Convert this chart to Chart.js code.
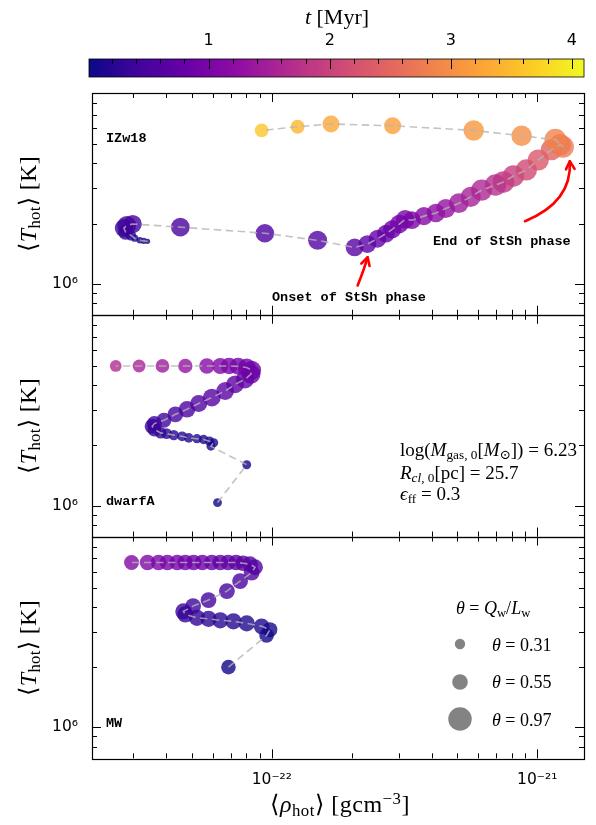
<!DOCTYPE html>
<html><head><meta charset="utf-8">
<script src="https://cdn.jsdelivr.net/npm/chart.js@4.4.1/dist/chart.umd.min.js"></script>
<style>
html,body{margin:0;padding:0;background:#fff;}
#wrap{position:relative;width:596px;height:825px;overflow:hidden;}
canvas{position:absolute;left:0;top:0;}
.t{position:absolute;white-space:nowrap;line-height:1;color:#000;}
.serif{font-family:'Liberation Serif','DejaVu Serif',serif;}
.mono{font-family:'Liberation Mono','DejaVu Sans Mono',monospace;font-weight:bold;font-size:13.5px;transform:translateY(-50%);}
.ylab{font-size:24px;letter-spacing:0.3px;transform:translate(-50%,-50%) rotate(-90deg);}
.c{transform:translate(-50%,-50%);}
.l{transform:translateY(-50%);}
sub{font-size:70%;vertical-align:-0.25em;line-height:0;}
sup{font-size:70%;vertical-align:0.5em;line-height:0;}
</style></head>
<body><div id="wrap">
<canvas id="main" width="596" height="825"></canvas>
<canvas id="cbar" width="596" height="82"></canvas>

<div class="t serif c" style="left:337px;top:17px;font-size:22px;"><i>t</i> [Myr]</div>

<div class="t serif ylab" style="left:28px;top:204px;">⟨<i>T</i><sub>hot</sub>⟩ [K]</div>
<div class="t serif ylab" style="left:28px;top:426px;">⟨<i>T</i><sub>hot</sub>⟩ [K]</div>
<div class="t serif ylab" style="left:28px;top:648px;">⟨<i>T</i><sub>hot</sub>⟩ [K]</div>
<div class="t serif c" style="left:340px;top:804px;font-size:24px;letter-spacing:0.5px;">⟨<i>ρ</i><sub>hot</sub>⟩ [gcm<sup>−3</sup>]</div>

<div class="t mono" style="left:106px;top:139px;">IZw18</div>
<div class="t mono" style="left:272px;top:298px;">Onset of StSh phase</div>
<div class="t mono" style="left:433px;top:242px;">End of StSh phase</div>
<div class="t mono" style="left:106px;top:502px;">dwarfA</div>
<div class="t mono" style="left:106px;top:724px;">MW</div>

<div class="t serif l" style="left:400px;top:449px;font-size:19px;">log(<i>M</i><sub>gas, 0</sub>[<i>M</i><sub>⊙</sub>]) = 6.23</div>
<div class="t serif l" style="left:400px;top:472px;font-size:19px;"><i>R</i><sub><i>cl</i>, 0</sub>[pc] = 25.7</div>
<div class="t serif l" style="left:400px;top:493px;font-size:19px;"><i>ϵ</i><sub>ff</sub> = 0.3</div>

<div class="t serif l" style="left:456px;top:608px;font-size:18px;"><i>θ</i> = <i>Q</i><sub>w</sub>/<i>L</i><sub>w</sub></div>
<div class="t serif l" style="left:492px;top:645px;font-size:18px;"><i>θ</i> = 0.31</div>
<div class="t serif l" style="left:492px;top:682px;font-size:18px;"><i>θ</i> = 0.55</div>
<div class="t serif l" style="left:492px;top:720px;font-size:18px;"><i>θ</i> = 0.97</div>
</div>
<script>
// ---------------- data ----------------
// IZw18
const izwRho = [3.40e-23,3.29e-23,3.18e-23,3.04e-23,2.94e-23,2.81e-23,2.77e-23,2.84e-23,2.99e-23,4.52e-23,9.41e-23,1.487e-22,2.05e-22,2.29e-22,2.50e-22,2.69e-22,2.84e-22,3.02e-22,3.18e-22,3.37e-22,3.74e-22,4.15e-22,4.52e-22,5.06e-22,5.61e-22,6.17e-22,6.96e-22,7.46e-22,8.13e-22,9.10e-22,1.009e-21,1.13e-21,1.22e-21,1.25e-21,1.17e-21,8.73e-22,5.76e-22,2.85e-22,1.67e-22,1.25e-22,9.15e-23];
const izwTemp = [1.63e6,1.64e6,1.65e6,1.69e6,1.75e6,1.81e6,1.90e6,1.96e6,1.99e6,1.92e6,1.79e6,1.65e6,1.52e6,1.58e6,1.68e6,1.78e6,1.87e6,1.99e6,2.10e6,2.08e6,2.18e6,2.26e6,2.38e6,2.53e6,2.72e6,2.94e6,3.12e6,3.23e6,3.46e6,3.71e6,4.16e6,4.68e6,4.96e6,4.84e6,5.25e6,5.50e6,5.85e6,6.17e6,6.30e6,6.10e6,5.85e6];
const izwTime = [0.05,0.1,0.15,0.2,0.25,0.3,0.35,0.4,0.45,0.5,0.55,0.6,0.65,0.7,0.75,0.8,0.85,0.9,0.95,1.0,1.1,1.2,1.3,1.4,1.5,1.6,1.7,1.8,1.95,2.1,2.3,2.45,2.6,2.75,2.85,3.0,3.1,3.2,3.3,3.45,3.6];
const izwTheta = [0.12,0.16,0.16,0.19,0.32,0.52,0.68,0.72,0.68,0.70,0.70,0.72,0.66,0.66,0.66,0.66,0.68,0.70,0.70,0.66,0.68,0.70,0.72,0.76,0.78,0.84,0.86,0.86,0.86,0.84,0.84,0.84,0.86,0.88,0.88,0.80,0.80,0.62,0.62,0.47,0.46];
// dwarfA
const dwaRho = [6.24e-23,8.04e-23,5.89e-23,6.03e-23,5.82e-23,5.53e-23,5.22e-23,4.86e-23,4.59e-23,4.27e-23,4.01e-23,3.81e-23,3.61e-23,3.54e-23,3.61e-23,3.92e-23,4.33e-23,4.79e-23,5.30e-23,5.94e-23,6.67e-23,7.27e-23,7.92e-23,8.34e-23,8.39e-23,8.04e-23,7.46e-23,6.90e-23,6.39e-23,5.69e-23,4.72e-23,3.87e-23,3.16e-23,2.58e-23];
const dwaTemp = [1.035e6,1.60e6,1.98e6,2.06e6,2.10e6,2.14e6,2.16e6,2.18e6,2.22e6,2.25e6,2.29e6,2.31e6,2.40e6,2.49e6,2.57e6,2.67e6,2.86e6,3.03e6,3.24e6,3.47e6,3.74e6,4.04e6,4.28e6,4.54e6,4.75e6,4.90e6,4.97e6,4.99e6,4.99e6,4.99e6,4.99e6,4.99e6,4.99e6,4.99e6];
const dwaTime = [0.02,0.05,0.08,0.1,0.12,0.14,0.16,0.18,0.2,0.22,0.25,0.28,0.31,0.34,0.38,0.42,0.47,0.52,0.57,0.62,0.67,0.72,0.76,0.8,0.84,0.88,0.93,0.98,1.05,1.15,1.3,1.42,1.53,1.65];
const dwaTheta = [0.25,0.25,0.25,0.27,0.27,0.27,0.27,0.28,0.29,0.31,0.33,0.36,0.47,0.52,0.52,0.52,0.56,0.60,0.62,0.66,0.66,0.66,0.68,0.72,0.72,0.68,0.62,0.60,0.57,0.54,0.49,0.46,0.42,0.37];
// MW
const mwRho = [6.86e-23,9.55e-23,9.83e-23,9.15e-23,8.04e-23,7.16e-23,6.39e-23,5.77e-23,5.22e-23,4.72e-23,4.64e-23,5.05e-23,5.77e-23,6.77e-23,7.59e-23,8.39e-23,8.64e-23,8.27e-23,7.79e-23,7.33e-23,6.84e-23,6.39e-23,5.94e-23,5.47e-23,5.07e-23,4.72e-23,4.40e-23,4.04e-23,3.74e-23,3.40e-23,2.96e-23];
const mwTemp = [2.00e6,2.88e6,3.08e6,3.20e6,3.31e6,3.39e6,3.43e6,3.49e6,3.53e6,3.67e6,3.80e6,4.04e6,4.33e6,4.80e6,5.39e6,5.94e6,6.32e6,6.54e6,6.62e6,6.67e6,6.67e6,6.67e6,6.67e6,6.67e6,6.67e6,6.67e6,6.67e6,6.67e6,6.67e6,6.67e6,6.67e6];
const mwTime = [0.02,0.05,0.08,0.12,0.15,0.19,0.22,0.26,0.29,0.32,0.36,0.39,0.43,0.47,0.51,0.54,0.58,0.61,0.65,0.68,0.71,0.75,0.78,0.82,0.85,0.88,0.92,0.95,0.99,1.04,1.1];
const mwTheta = [0.50,0.50,0.52,0.56,0.58,0.58,0.58,0.58,0.58,0.58,0.58,0.56,0.56,0.56,0.56,0.56,0.56,0.56,0.55,0.55,0.55,0.55,0.55,0.55,0.55,0.55,0.55,0.55,0.55,0.55,0.52];

// axes / ticks / colourbar / legend
const xLimits = [2.1e-23, 1.5e-21];
const yLimits = [7e5, 9e6];
const xMajorTicks = [1e-22, 1e-21];
const xMajorLabels = ['10⁻²²', '10⁻²¹'];
const yMajorTicks = [1e6];
const yMajorLabels = ['10⁶'];
const timeLimits = [0.012, 4.1];
const cbarTicks = [1, 2, 3, 4];
const cbarLabels = ['1', '2', '3', '4'];
const legendTheta = [0.31, 0.55, 0.97];

// annotation arrows (data coords of IZw18 panel): tail, control, head
const arrowTail = [[2.105e-22, 9.81e5], [8.99e-22, 2.056e6]];
const arrowCtrl = [[2.224e-22, 1.176e6], [1.355e-21, 2.57e6]];
const arrowHead = [[2.295e-22, 1.358e6], [1.326e-21, 4.10e6]];

// ---------------- helpers ----------------
const plasmaStops = ['#0d0887','#41049d','#6a00a8','#8f0da4','#b12a90','#cc4778','#e16462','#f2844b','#fca636','#fcce25','#f0f921'];
function hex2rgb(h){return [parseInt(h.substr(1,2),16),parseInt(h.substr(3,2),16),parseInt(h.substr(5,2),16)];}
const plasmaRGB = plasmaStops.map(hex2rgb);
function plasma(p){
  p = Math.max(0, Math.min(1, p));
  const f = p * 10, i = Math.min(9, Math.floor(f)), w = f - i;
  const a = plasmaRGB[i], b = plasmaRGB[i+1];
  return [0,1,2].map(k => Math.round(a[k] + (b[k]-a[k]) * w));
}
function timeColor(t, alpha){
  const c = plasma((t - timeLimits[0]) / (timeLimits[1] - timeLimits[0]));
  return `rgba(${c[0]},${c[1]},${c[2]},${alpha})`;
}
function radiusFor(theta){ return 12 * Math.pow(theta, 0.72); }
function near(v, ref){ return Math.abs(v / ref - 1) < 1e-6; }
function labelFor(v, ticks, labels){
  for (let i = 0; i < ticks.length; i++) if (near(v, ticks[i])) return labels[i];
  return '';
}

const panels = [
  {axis: 'yIZw', rho: izwRho, temp: izwTemp, time: izwTime, theta: izwTheta},
  {axis: 'yDwarf', rho: dwaRho, temp: dwaTemp, time: dwaTime, theta: dwaTheta},
  {axis: 'yMW', rho: mwRho, temp: mwTemp, time: mwTime, theta: mwTheta}
];
const pts = p => p.rho.map((r, i) => ({x: r, y: p.temp[i]}));
const lineSets = panels.map(p => ({
  yAxisID: p.axis, data: pts(p), showLine: true, fill: false, tension: 0,
  borderColor: 'rgba(180,180,180,0.8)', borderWidth: 1.6, borderDash: [7.5, 4.5], pointRadius: 0
}));
const pointSets = panels.map(p => ({
  yAxisID: p.axis, data: pts(p), showLine: false,
  pointRadius: p.theta.map(radiusFor),
  pointBackgroundColor: p.time.map(t => timeColor(t, 0.8)),
  pointBorderWidth: 0, borderWidth: 0
}));

const tickFont = {family: 'DejaVu Sans', size: 15.5};
function yAxis(){
  return {
    type: 'logarithmic', position: 'left', stack: 'panels', stackWeight: 1,
    min: yLimits[0], max: yLimits[1],
    grid: {display: false, drawTicks: false}, border: {display: false},
    ticks: {autoSkip: false, padding: 14, color: '#000', font: tickFont,
      callback: v => labelFor(v, yMajorTicks, yMajorLabels)},
    afterFit: s => { s.width = 92; }
  };
}

function mantissa(v){ const e = Math.floor(Math.log10(v) + 1e-9); return v / Math.pow(10, e); }
function line(ctx, x1, y1, x2, y2){ ctx.beginPath(); ctx.moveTo(x1, y1); ctx.lineTo(x2, y2); ctx.stroke(); }

const framePlugin = {
  id: 'frame',
  afterDraw(chart){
    const ctx = chart.ctx, {left, right} = chart.chartArea, xs = chart.scales.x;
    ctx.save();
    ctx.strokeStyle = '#000'; ctx.lineWidth = 1;
    for (const p of panels){
      const ys = chart.scales[p.axis];
      ys.ticks.forEach(tk => {
        const m = mantissa(tk.value);
        if (Math.abs(m - Math.round(m)) > 1e-6) return;
        const py = Math.round(ys.getPixelForValue(tk.value)) + 0.5;
        if (py < ys.top + 1 || py > ys.bottom - 1) return;
        const len = Math.round(m) === 1 ? 9 : 5;
        line(ctx, left, py, left + len, py); line(ctx, right, py, right - len, py);
      });
      xs.ticks.forEach(tk => {
        const m = mantissa(tk.value);
        if (Math.abs(m - Math.round(m)) > 1e-6) return;
        const px = Math.round(xs.getPixelForValue(tk.value)) + 0.5;
        if (px < left + 1 || px > right - 1) return;
        const len = Math.round(m) === 1 ? 9 : 5;
        line(ctx, px, ys.top, px, ys.top + len); line(ctx, px, ys.bottom, px, ys.bottom - len);
      });
    }
    ctx.lineWidth = 1.2;
    for (const p of panels){
      const ys = chart.scales[p.axis];
      ctx.strokeRect(Math.round(left) + 0.5, Math.round(ys.top) + 0.5, Math.round(right - left), Math.round(ys.bottom - ys.top));
    }
    // red annotation arrows (IZw18 panel)
    const yI = chart.scales.yIZw;
    ctx.strokeStyle = '#ff0000'; ctx.lineWidth = 2.6; ctx.lineCap = 'round'; ctx.lineJoin = 'round';
    for (let i = 0; i < arrowTail.length; i++){
      const P = a => [xs.getPixelForValue(a[0]), yI.getPixelForValue(a[1])];
      const t0 = P(arrowTail[i]), c = P(arrowCtrl[i]), h = P(arrowHead[i]);
      ctx.beginPath(); ctx.moveTo(t0[0], t0[1]); ctx.quadraticCurveTo(c[0], c[1], h[0], h[1]); ctx.stroke();
      const ang = Math.atan2(h[1] - c[1], h[0] - c[0]);
      const L = 9, spread = 0.5;
      ctx.beginPath();
      ctx.moveTo(h[0] - L * Math.cos(ang - spread), h[1] - L * Math.sin(ang - spread));
      ctx.lineTo(h[0], h[1]);
      ctx.lineTo(h[0] - L * Math.cos(ang + spread), h[1] - L * Math.sin(ang + spread));
      ctx.stroke();
    }
    // theta size legend (MW panel)
    ctx.fillStyle = 'rgba(100,100,100,0.8)';
    const legX = 460, legY = [644, 682, 719];
    legendTheta.forEach((th, i) => {
      ctx.beginPath(); ctx.arc(legX, legY[i], radiusFor(th), 0, Math.PI * 2); ctx.fill();
    });
    ctx.restore();
  }
};

new Chart(document.getElementById('main'), {
  type: 'scatter',
  data: {datasets: [...lineSets, ...pointSets]},
  options: {
    responsive: false, animation: false, events: [], devicePixelRatio: 1,
    layout: {padding: {left: 0, right: 11, top: 93, bottom: 36.7}},
    plugins: {legend: {display: false}, tooltip: {enabled: false}},
    scales: {
      x: {type: 'logarithmic', position: 'bottom', min: xLimits[0], max: xLimits[1],
        grid: {display: false, drawTicks: false}, border: {display: false},
        ticks: {autoSkip: false, maxRotation: 0, padding: 12, color: '#000', font: tickFont,
          callback: v => labelFor(v, xMajorTicks, xMajorLabels)},
        afterFit: s => { s.height = 30; }},
      yMW: yAxis(),
      yDwarf: yAxis(),
      yIZw: yAxis()
    }
  },
  plugins: [framePlugin]
});

// ---------------- colour bar ----------------
const cbarPlugin = {
  id: 'cbar',
  beforeDatasetsDraw(chart){
    const ctx = chart.ctx, a = chart.chartArea, xs = chart.scales.x;
    const g = ctx.createLinearGradient(a.left, 0, a.right, 0);
    for (let i = 0; i <= 100; i++){
      const c = plasma(i / 100);
      g.addColorStop(i / 100, `rgb(${c[0]},${c[1]},${c[2]})`);
    }
    ctx.save();
    ctx.fillStyle = g; ctx.fillRect(a.left, a.top, a.right - a.left, a.bottom - a.top);
    ctx.strokeStyle = '#000'; ctx.lineWidth = 0.8;
    ctx.strokeRect(a.left, a.top, a.right - a.left, a.bottom - a.top);
    ctx.lineWidth = 1;
    for (let k = 1; k * 0.2 < timeLimits[1]; k++){
      const v = k * 0.2;
      const px = Math.round(xs.getPixelForValue(v)) + 0.5;
      const major = cbarTicks.some(t => Math.abs(t - v) < 1e-6);
      line(ctx, px, a.top, px, a.top + (major ? 10 : 5));
    }
    ctx.restore();
  }
};
new Chart(document.getElementById('cbar'), {
  type: 'scatter',
  data: {datasets: []},
  options: {
    responsive: false, animation: false, events: [], devicePixelRatio: 1,
    layout: {padding: {left: 89, right: 12, top: 0, bottom: 5}},
    plugins: {legend: {display: false}, tooltip: {enabled: false}},
    scales: {
      x: {type: 'linear', position: 'top', min: timeLimits[0], max: timeLimits[1],
        grid: {display: false, drawTicks: false}, border: {display: false},
        ticks: {stepSize: 1, includeBounds: false, autoSkip: false, maxRotation: 0, padding: 9, color: '#000',
          font: {family: 'DejaVu Sans', size: 16},
          callback: v => labelFor(v, cbarTicks, cbarLabels)},
        afterFit: s => { s.height = 59; }},
      y: {display: false, min: 0, max: 1}
    }
  },
  plugins: [cbarPlugin]
});
</script>
</body></html>
